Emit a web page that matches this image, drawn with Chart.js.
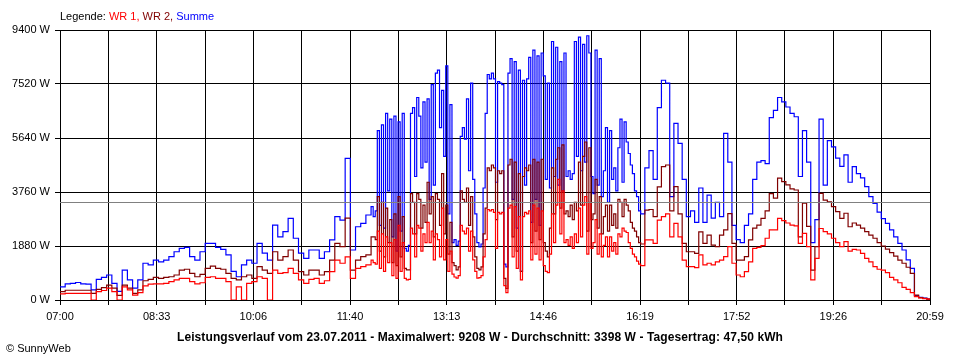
<!DOCTYPE html>
<html>
<head>
<meta charset="utf-8">
<title>Leistungsverlauf 23.07.2011</title>
<script src="https://cdn.jsdelivr.net/npm/chart.js@4"></script>
<style>
  body { margin: 0; background: #fff; }
  #wrap { position: relative; width: 960px; height: 360px; font-family: "Liberation Sans", Arial, sans-serif; font-size: 11px; color: #000; }
  #grafik { position: absolute; left: 0; top: 0; }
  #legende { position: absolute; left: 60px; top: 10px; white-space: nowrap; }
  #caption { position: absolute; left: 0; top: 330px; width: 960px; text-align: center; font-weight: bold; font-size: 12px; letter-spacing: 0.1px; white-space: nowrap; }
  #copy { position: absolute; left: 6px; top: 342px; white-space: nowrap; }
</style>
</head>
<body>
<div id="wrap">
  <canvas id="grafik" width="960" height="360"></canvas>
  <div id="legende">Legende: <span style="color:#ff0000">WR 1,</span> <span style="color:#800000">WR 2,</span> <span style="color:#0000ff">Summe</span></div>
  <div id="caption">Leistungsverlauf vom 23.07.2011 - Maximalwert: 9208 W - Durchschnitt: 3398 W - Tagesertrag: 47,50 kWh</div>
  <div id="copy">&copy; SunnyWeb</div>
</div>
<script>
// Minuten seit 07:00
const minutes = [
  0,5,10,15,20,25,30,35,40,45, 50,55,60,65,70,75,80,85,90,95,
  100,105,110,115,120,125,130,135,140,145, 150,155,160,165,170,175,180,185,190,195,
  200,205,210,215,220,225,230,235,240,245, 250,255,260,265,270,275,280,285,290,295, 300,
  302,304,306,308,310,312,314,316,318,320, 322,324,326,328,330,332,334,336,338,340,
  342,344,346,348,350,352,354,356,358,360, 362,364,366,368,370,372,374,376,378,380,
  382,384,386,388,390,392,394,396,398,400, 402,404,406,408,410,412,414,416,418,420,
  422,424,426,428,430,432,434,436,438,440, 442,444,446,448,450,452,454,456,458,460,
  462,464,466,468,470,472,474,476,478,480, 482,484,486,488,490,492,494,496,498,500,
  502,504,506,508,510,512,514,516,518,520, 522,524,526,528,530,532,534,536,538,540,
  542,544,546,548,550,552,554,556,558,560,
  564,568,572,576,580,584,588,592,596,600, 604,608,612,616,620,624,628,632,636,640,
  644,648,652,656,660,664,668,672,676,680, 684,688,692,696,700,704,708,712,716,720,
  724,728,732,736,740,744,748,752,756,760, 764,768,772,776,780,784,788,792,796,800,
  804,808,812,816,820,824,828,832,836,839
];

// WR 1 (W)
const wr1 = [
  210,230,230,230,230,230,0,290,330,410, 290,0,460,350,170,260,490,550,560,560,
  580,640,700,750,750,640,560,600,790,810, 750,750,640,0,460,0,580,640,810,750,
  0,1040,930,950,1100,930,700,580,720,750, 580,670,990,1390,1280,1500,750,1100,1160,1220, 1390,
  1300,1250,2400,1100,2300,1000,2200,1300,2000,850, 2100,750,2600,1000,2000,750,700,720,2500,2300,
  1500,2600,2500,1700,2300,2000,2700,2000,2400,1400, 2300,2100,1500,3200,1400,2100,1000,1700,900,800,
  760,850,2600,2400,2300,2500,1700,2400,1400,1000, 760,780,850,1500,2100,3150,3100,3150,3050,1800,
  3050,3000,3050,500,260,3200,3300,1500,3250,1100, 2900,700,2900,3050,3000,3100,1400,3300,1600,3200,
  1400,3100,1200,1000,950,1600,3000,2000,3300,4200, 2300,3800,2000,2100,1900,2200,1800,2300,2000,3200,
  2200,3300,3600,1600,3400,1800,2000,2800,1600,2300, 1500,1900,2200,1500,2200,1700,2000,1600,2300,2200,
  2500,2400,2350,2000,1800,1600,1500,1350,1250,1200,
  2090,2090,1970,2780,2900,3000,2200,2670,2200,1390, 1160,1160,1130,1570,1220,1280,1220,1330,1390,1510,
  1860,1280,870,810,990,1330,1800,1830,1890,2150, 2440,2440,2840,2760,2680,2610,2580,1970,2320,1860,
  700,1450,2490,2380,2300,2150,2000,1860,2030,1700, 1760,1740,1620,1450,1330,1160,1070,1040,950,790,
  700,600,440,370,260,120,70,50,30,0
];

// WR 2 (W)
const wr2 = [
  290,340,340,340,340,340,230,370,430,520, 410,160,520,410,230,350,670,720,790,750,
  790,810,870,1040,1070,930,810,890,1100,1180, 1100,1070,930,750,700,810,870,750,1160,1040,
  930,1680,1390,1510,1740,1390,990,870,1040,1040, 870,990,1390,1970,1860,2850,1040,1390,1510,1570, 2200,
  2200,2100,3600,1700,3400,1500,3200,2000,2800,1300, 3000,1200,3600,1500,2900,1100,1050,1050,3700,3400,
  2300,3700,3500,2500,3300,2700,4100,3000,3600,2200, 3700,3500,2600,4400,2300,3300,1600,2700,1300,1200,
  1050,1150,3800,3500,3400,3900,2600,3600,2200,1500, 1100,1050,1150,2300,3200,4600,4500,4700,4600,2800,
  4500,4400,4500,750,400,4700,4900,2200,4800,1700, 4400,1000,4300,4600,4500,4700,2000,4900,2400,4800,
  2100,4900,2000,1700,1500,2500,4600,3000,4900,5300, 3200,5400,3000,3100,2900,3300,2800,3400,3100,4800,
  3300,5000,5500,2400,5300,2800,3000,4200,2500,3600, 2300,2900,3300,2400,3300,2600,3000,2500,3500,3400,
  2900,3500,3300,3100,2700,2500,2400,2200,2000,1950,
  3130,3150,2900,3940,4640,4700,3100,3950,3000,1970, 1680,1680,1620,2370,1970,2260,1910,1860,2260,2440,
  3010,1970,1390,1390,1510,2090,2500,2610,2840,3100, 3700,3550,4240,4120,4010,3870,3830,2200,3370,2560,
  1040,1860,3710,3480,3420,3250,3080,2840,3020,2550, 2680,2610,2500,2380,2260,2150,2000,1880,1770,1650,
  1530,1390,1280,1140,930,170,80,60,30,0
];

// Summe (W)
const summe = [
  460,560,580,610,560,550,350,720,790,870, 580,300,1040,700,410,700,1280,1220,1390,1330,
  1390,1510,1680,1800,1830,1510,1390,1680,1970,1970, 1830,1760,1570,1000,810,1220,1390,1280,1970,1630,
  1390,2610,2200,2380,2840,2150,1630,1450,1740,1740, 1450,1680,2090,2900,2780,4930,1740,2550,2670,2960, 3250,
  2900,3100,5900,2600,6100,2500,6500,3800,6300,2200, 6400,1700,6200,2400,6500,1800,1700,1900,6500,6700,
  4300,7050,6400,4600,6900,4800,7000,3500,7500,4000, 7900,8000,6000,7300,5000,8150,3000,6800,2000,2100,
  1900,2050,5700,6000,5600,7000,4500,7550,4200,3000, 2000,1850,1950,3900,6500,7850,7700,7900,7700,4100,
  7600,7550,7500,1250,1150,7900,8400,3500,8300,2500, 8000,1000,7650,4000,7700,8450,2700,8700,3500,8500,
  2600,8600,7800,4200,7550,3900,9000,4300,8800,4000, 8300,3800,8600,4300,4500,4200,4400,9000,5000,9150,
  4500,8900,4800,9200,8600,4300,3700,8700,4000,8400, 3600,4500,6000,3400,5900,4200,4600,3800,5300,6300,
  4100,6200,5500,5100,4700,4400,3800,3600,3100,3000,
  4600,5200,4200,6700,7650,7550,3600,6150,5450,4200, 2900,3100,2700,3900,2700,3650,2850,3400,2900,5800,
  4800,2600,2100,2000,2600,3000,4200,4800,4850,4750, 6350,6600,7050,6900,6720,6500,6380,4300,5900,4800,
  2000,2800,6300,4000,5550,5330,4940,4650,5050,4100, 4640,4400,4250,3950,3600,3360,3060,2830,2670,2440,
  2200,1970,1740,1400,1100,150,90,70,30,0
];

const timeLabels = ['07:00', '08:33', '10:06', '11:40', '13:13', '14:46', '16:19', '17:52', '19:26', '20:59'];
const yTicks = [0, 1880, 3760, 5640, 7520, 9400];
const durchschnitt = 3398;

const endMin = 839;
const font = { family: '"Liberation Sans", Arial, sans-serif', size: 11 };

function serie(werte) {
  return minutes.map((m, i) => ({ x: m, y: werte[i] }));
}

// graue Linie fuer den Durchschnitt
const mittelLinie = {
  id: 'mittelLinie',
  afterDatasetsDraw(chart) {
    const { ctx, chartArea, scales } = chart;
    const y = Math.round(scales.y.getPixelForValue(durchschnitt)) + 0.5;
    ctx.save();
    ctx.strokeStyle = '#808080';
    ctx.lineWidth = 1;
    ctx.beginPath();
    ctx.moveTo(chartArea.left, y);
    ctx.lineTo(chartArea.right, y);
    ctx.stroke();
    ctx.restore();
  }
};

const linie = { borderWidth: 1.2, pointRadius: 0, stepped: true, tension: 0, fill: false };

new Chart(document.getElementById('grafik'), {
  type: 'line',
  data: {
    datasets: [
      Object.assign({ label: 'WR 1', data: serie(wr1), borderColor: '#ff0000' }, linie),
      Object.assign({ label: 'WR 2', data: serie(wr2), borderColor: '#800000' }, linie),
      Object.assign({ label: 'Summe', data: serie(summe), borderColor: '#0000ff' }, linie)
    ]
  },
  options: {
    responsive: false,
    animation: false,
    parsing: false,
    layout: { padding: { top: 30, right: 30, left: 0, bottom: 0 } },
    plugins: { legend: { display: false }, tooltip: { enabled: false } },
    scales: {
      x: {
        type: 'linear',
        min: 0,
        max: endMin,
        afterBuildTicks: s => {
          const t = [];
          for (let i = 0; i <= 18; i++) t.push({ value: i * endMin / 18 });
          s.ticks = t;
        },
        afterFit: s => { s.height = 60; },
        ticks: {
          autoSkip: false,
          maxRotation: 0,
          padding: 5,
          color: '#000',
          font: font,
          callback: (v, i) => (i % 2 ? '' : timeLabels[i / 2])
        },
        grid: { color: '#000', lineWidth: 1, tickLength: 5 },
        border: { color: '#000' }
      },
      y: {
        min: 0,
        max: 9400,
        afterBuildTicks: s => { s.ticks = yTicks.map(v => ({ value: v })); },
        afterFit: s => { s.width = 60; },
        ticks: {
          padding: 5,
          color: '#000',
          font: font,
          callback: v => v + ' W'
        },
        grid: { color: '#000', lineWidth: 1, tickLength: 5 },
        border: { color: '#000' }
      }
    }
  },
  plugins: [mittelLinie]
});
</script>
</body>
</html>
